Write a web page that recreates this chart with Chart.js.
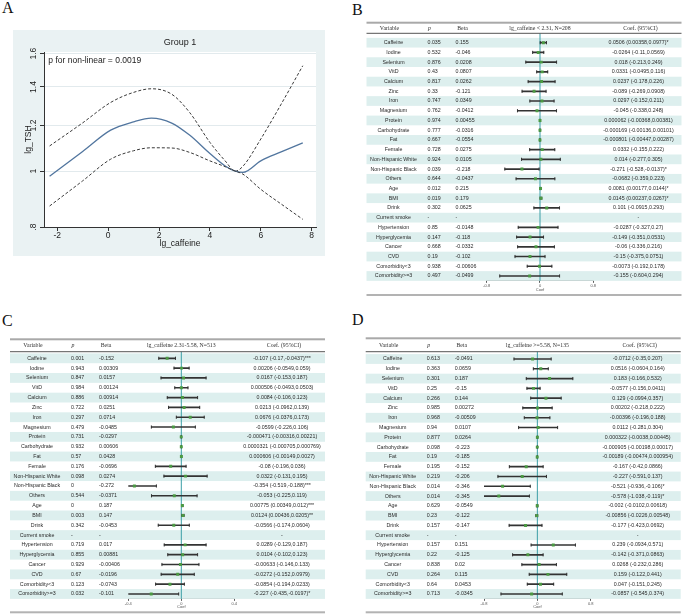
<!DOCTYPE html>
<html><head><meta charset="utf-8">
<script src="https://cdn.jsdelivr.net/npm/chart.js@4.4.1/dist/chart.umd.min.js"></script>
<style>
html,body{margin:0;padding:0;background:#fff;width:685px;height:614px;overflow:hidden;}
body{position:relative;}
.lbl{position:absolute;font-family:"Liberation Serif","Times New Roman",serif;font-size:16px;line-height:16px;color:#111;}
canvas{position:absolute;display:block;}
</style></head><body>
<div class="lbl" style="left:2px;top:0px">A</div>
<div class="lbl" style="left:352px;top:2px">B</div>
<div class="lbl" style="left:2px;top:313px">C</div>
<div class="lbl" style="left:352px;top:312px">D</div>
<canvas id="cA" width="312" height="226" style="left:13px;top:30px;background:#eaf2f3"></canvas>
<canvas id="cB" width="316" height="278" style="left:366px;top:19px"></canvas>
<canvas id="cC" width="318" height="278" style="left:10px;top:336px"></canvas>
<canvas id="cD" width="317" height="279" style="left:365px;top:335px"></canvas>
<script>
// ================= Panel A data =================
const caffeineX = [-2.3, -1, 0.1, 1.0, 1.7, 2.5, 3.2, 4.0, 4.6, 5.0, 5.3, 6.0, 6.8, 7.65];
const tshFit    = [0.98, 1.082, 1.178, 1.218, 1.236, 1.212, 1.155, 1.073, 1.021, 1.0, 0.995, 1.042, 1.08, 1.12];
const tshUpper  = [1.106, 1.213, 1.316, 1.37, 1.39, 1.36, 1.265, 1.122, 1.042, 1.0, 1.02, 1.137, 1.307, 1.524];
const tshLower  = [0.87, 0.962, 1.049, 1.085, 1.098, 1.097, 1.078, 1.042, 1.018, 1.0, 0.988, 0.93, 0.877, 0.825];
const aXTicks = [-2, 0, 2, 4, 6, 8];
const aXTickLabels = ['-2', '0', '2', '4', '6', '8'];
const aYTicks = [0.8, 1, 1.2, 1.4, 1.6];
const aYTickLabels = ['.8', '1', '1.2', '1.4', '1.6'];
const aTitle = 'Group 1';
const aXTitle = 'lg_caffeine';
const aYTitle = 'lg_TSH';
const pNonLinearText = 'p for non-linear = 0.0019';

// ================= Forest data =================
const variables = ['Caffeine','Iodine','Selenium','VitD','Calcium','Zinc','Iron','Magnesium','Protein','Carbohydrate','Fat','Female','Non-Hispanic White','Non-Hispanic Black','Others','Age','BMI','Drink','Current smoke','Hypertension','Hyperglycemia','Cancer','CVD','Comorbidity<3','Comorbidity>=3'];

// Panel B : lg_caffeine < 2.31
const bTitle = 'lg_caffeine < 2.31, N=208';
const bP    = ['0.035','0.532','0.876','0.43','0.817','0.33','0.747','0.762','0.974','0.777','0.667','0.728','0.924','0.039','0.644','0.012','0.019','0.302','-','0.85','0.147','0.668','0.19','0.938','0.497'];
const bBeta = ['0.155','-0.046','0.0208','0.0807','0.0262','-0.121','0.0349','-0.0412','0.00455','-0.0316','-0.0554','0.0275','0.0105','-0.218','-0.0437','0.215','0.179','0.0625','-','-0.0148','-0.118','-0.0332','-0.102','-0.00606','-0.0499'];
const bCoef = [0.0506,-0.0264,0.018,0.0331,0.0237,-0.089,0.0297,-0.045,0.000062,-0.000169,-0.000801,0.0332,0.014,-0.271,-0.0682,0.0081,0.0145,0.101,null,-0.0287,-0.149,-0.06,-0.15,-0.0073,-0.155];
const bLo   = [0.00358,-0.11,-0.213,-0.0495,-0.178,-0.269,-0.152,-0.338,-0.00368,-0.00136,-0.00447,-0.155,-0.277,-0.528,-0.359,0.00177,0.00237,-0.0915,null,-0.327,-0.351,-0.336,-0.375,-0.192,-0.604];
const bHi   = [0.0977,0.0569,0.249,0.116,0.226,0.0908,0.211,0.248,0.00381,0.00101,0.00287,0.222,0.305,-0.0137,0.223,0.0144,0.0267,0.293,null,0.27,0.0531,0.216,0.0751,0.178,0.294];
const bStars= ['*','','','','','','','','','','','','','*','','*','*','','','','','','','',''];
const bTicks = [-0.8, 0, 0.8];
const bTickLabels = ['-0.8', '0', '0.8'];

// Panel C : lg_caffeine 2.31-5.58
const cTitle = 'lg_caffeine 2.31-5.58, N=513';
const cP    = ['0.001','0.943','0.847','0.984','0.886','0.722','0.297','0.479','0.731','0.932','0.57','0.176','0.098','0','0.544','0','0.003','0.342','-','0.719','0.855','0.929','0.67','0.123','0.032'];
const cBeta = ['-0.152','0.00309','0.0157','0.00124','0.00914','0.0251','0.0714','-0.0485','-0.0297','0.00606','0.0428','-0.0696','0.0274','-0.272','-0.0371','0.187','0.147','-0.0453','-','0.017','0.00881','-0.00406','-0.0196','-0.0743','-0.101'];
const cCoef = [-0.107,0.00206,0.0167,0.000506,0.0084,0.0213,0.0676,-0.0599,-0.000471,0.0000321,0.000606,-0.08,0.0322,-0.354,-0.053,0.00775,0.0124,-0.0566,null,0.0289,0.0104,-0.00633,-0.0272,-0.0854,-0.227];
const cLo   = [-0.17,-0.0549,-0.153,-0.0493,-0.106,-0.0962,-0.0376,-0.226,-0.00316,-0.000705,-0.00149,-0.196,-0.131,-0.519,-0.225,0.00349,0.00436,-0.174,null,-0.129,-0.102,-0.146,-0.152,-0.194,-0.435];
const cHi   = [-0.0437,0.059,0.187,0.0503,0.123,0.139,0.173,0.106,0.00221,0.000769,0.0027,0.036,0.195,-0.188,0.119,0.012,0.0205,0.0604,null,0.187,0.123,0.133,0.0979,0.0233,-0.0197];
const cStars= ['***','','','','','','','','','','','','','***','','***','**','','','','','','','','*'];
const cTicks = [-0.4, 0, 0.4];
const cTickLabels = ['-0.4', '0', '0.4'];

// Panel D : lg_caffeine >= 5.58
const dTitle = 'lg_caffeine >=5.58, N=135';
const dP    = ['0.613','0.363','0.301','0.25','0.266','0.985','0.968','0.94','0.877','0.098','0.19','0.195','0.219','0.014','0.014','0.629','0.23','0.157','-','0.157','0.22','0.838','0.264','0.64','0.713'];
const dBeta = ['-0.0491','0.0659','0.187','-0.15','0.144','0.00272','-0.00509','0.0107','0.0264','-0.223','-0.185','-0.152','-0.206','-0.346','-0.345','-0.0549','-0.122','-0.147','-','0.151','-0.125','0.02','0.115','0.0453','-0.0345'];
const dCoef = [-0.0712,0.0516,0.183,-0.0577,0.129,0.00202,-0.00396,0.0112,0.000322,-0.000905,-0.00189,-0.167,-0.227,-0.521,-0.578,-0.002,-0.00856,-0.177,null,0.239,-0.142,0.0268,0.159,0.047,-0.0857];
const dLo   = [-0.35,-0.0604,-0.166,-0.156,-0.0994,-0.218,-0.196,-0.281,-0.0038,-0.00198,-0.00474,-0.42,-0.591,-0.936,-1.038,-0.0102,-0.0226,-0.423,null,-0.0934,-0.371,-0.232,-0.122,-0.151,-0.545];
const dHi   = [0.207,0.164,0.532,0.0411,0.357,0.222,0.188,0.304,0.00445,0.00017,0.000954,0.0866,0.137,-0.106,-0.119,0.00618,0.00548,0.0692,null,0.571,0.0863,0.286,0.441,0.245,0.374];
const dStars= ['','','','','','','','','','','','','','*','*','','','','','','','','','',''];
const dTicks = [-0.8, 0, 0.8];
const dTickLabels = ['-0.8', '0', '0.8'];

const SANS = '"Liberation Sans", Arial, sans-serif';
const SERIF = '"Liberation Serif", "Times New Roman", serif';

// ================= Panel A chart =================
function pts(xs, ys){ return xs.map((x,i)=>({x:x, y:ys[i]})); }
const aPlugin = {
  id:'aDecor',
  beforeDraw(chart){
    const {ctx, chartArea:a} = chart;
    ctx.save(); ctx.fillStyle='#ffffff';
    ctx.fillRect(a.left, a.top, a.right-a.left, a.bottom-a.top);
    ctx.restore();
  },
  afterDatasetsDraw(chart){
    const {ctx, scales:{x,y}} = chart;
    ctx.save();
    ctx.font = '8.5px ' + SANS; ctx.fillStyle='#222';
    ctx.textAlign='left'; ctx.textBaseline='middle';
    ctx.fillText(pNonLinearText, x.getPixelForValue(-2.35), y.getPixelForValue(1.556));
    ctx.restore();
  }
};
new Chart(document.getElementById('cA'), {
  type:'line',
  data:{datasets:[
    {data:pts(caffeineX, tshUpper), borderColor:'#3a3a3a', borderWidth:1, borderDash:[3,2], pointRadius:0, cubicInterpolationMode:'monotone', fill:false},
    {data:pts(caffeineX, tshLower), borderColor:'#3a3a3a', borderWidth:1, borderDash:[3,2], pointRadius:0, cubicInterpolationMode:'monotone', fill:false},
    {data:pts(caffeineX, tshFit), borderColor:'#52769f', borderWidth:1.3, pointRadius:0, cubicInterpolationMode:'monotone', fill:false}
  ]},
  options:{
    responsive:false, animation:false, events:[],
    layout:{padding:{left:0,right:9,top:0,bottom:0}},
    plugins:{
      legend:{display:false}, tooltip:{enabled:false},
      title:{display:true, text:aTitle, fullSize:false, color:'#222', font:{family:SANS, size:9, weight:'normal'}, padding:{top:7.6,bottom:3.6}}
    },
    scales:{
      x:{type:'linear', min:-2.52, max:8.17,
        afterBuildTicks:s=>{s.ticks=aXTicks.map(v=>({value:v}));},
        afterFit:s=>{s.height=29;},
        ticks:{autoSkip:false, maxRotation:0, padding:0, color:'#222', font:{family:SANS,size:8.5},
          callback:v=>{const i=aXTicks.findIndex(t=>Math.abs(t-v)<1e-9); return i<0?'':aXTickLabels[i];}},
        grid:{drawOnChartArea:false, drawTicks:true, tickLength:4, tickColor:'#333'},
        border:{display:true, color:'#333', width:1},
        title:{display:true, text:aXTitle, color:'#222', font:{family:SANS,size:8.5}, padding:{top:0,bottom:7.6}}
      },
      y:{type:'logarithmic', min:0.8, max:1.61,
        afterBuildTicks:s=>{s.ticks=aYTicks.map(v=>({value:v}));},
        afterFit:s=>{s.width=31;},
        ticks:{autoSkip:false, minRotation:90, maxRotation:90, crossAlign:'center', padding:0, color:'#222', font:{family:SANS,size:8.5},
          callback:v=>{const i=aYTicks.findIndex(t=>Math.abs(t-v)<1e-9); return i<0?'':aYTickLabels[i];}},
        grid:{drawOnChartArea:true, color:'#e2eaed', lineWidth:1, drawTicks:true, tickLength:4, tickColor:'#333'},
        border:{display:true, color:'#333', width:1},
        title:{display:true, text:aYTitle, color:'#222', font:{family:SANS,size:8.5}, padding:{top:10.2,bottom:0}}
      }
    }
  },
  plugins:[aPlugin]
});

// ================= Forest charts =================
function fmtCoef(c, lo, hi, st){ return c===null ? '-' : (c + ' (' + lo + ',' + hi + ')' + st); }

function forest(id, D, G){
  const el = document.getElementById(id);
  const W = el.width, H = el.height;
  const n = variables.length;
  const tX = G.L - G.cLeft;
  const cy = v => v - G.cTop;
  const chartTop = G.firstRow - G.rowStep/2;
  const chartBottom = G.firstRow + (n - 0.5)*G.rowStep;
  const xH = H - (chartBottom - G.cTop);
  const padB = (G.cTop + H) - G.coefY - 2.4;
  const ci = D.lo.map((l,i)=> l===null ? null : [l, D.hi[i]]);
  const caps = [];
  D.lo.forEach((l,i)=>{ if(l!==null){ caps.push({x:l, y:variables[i]}); caps.push({x:D.hi[i], y:variables[i]}); } });
  const points = [];
  D.coef.forEach((c,i)=>{ if(c!==null) points.push({x:c, y:variables[i]}); });
  const coefText = D.coef.map((c,i)=>fmtCoef(c, D.lo[i], D.hi[i], D.stars[i]));

  const tablePlugin = {
    id:'forestTable',
    beforeDatasetsDraw(chart){
      const {ctx, chartArea:a, scales:{x,y}} = chart;
      const h = y.getPixelForValue(1) - y.getPixelForValue(0);
      ctx.save();
      ctx.fillStyle = '#ddefee';
      for(let i=0;i<n;i+=2){
        const yc = y.getPixelForValue(i);
        ctx.fillRect(tX, yc-h/2, 315, h);
      }
      const x0 = x.getPixelForValue(0);
      ctx.strokeStyle = '#3a9ea6'; ctx.lineWidth = 1;
      ctx.beginPath(); ctx.moveTo(x0, cy(G.headerLine)); ctx.lineTo(x0, a.bottom); ctx.stroke();
      ctx.restore();
    },
    afterDraw(chart){
      const {ctx, scales:{x,y}} = chart;
      ctx.save();
      // rules
      ctx.fillStyle = '#a9a9a9'; ctx.fillRect(tX, cy(G.topLine)-1, 315, 2);
      ctx.fillStyle = '#555555'; ctx.fillRect(tX, cy(G.headerLine)-0.5, 315, 1);
      ctx.fillStyle = '#b3b3b3'; ctx.fillRect(tX, cy(G.bottomLine)-1, 315, 2);
      // header
      ctx.fillStyle = '#333'; ctx.textBaseline = 'middle';
      const hy = cy(G.headerY);
      ctx.font = '5.8px ' + SERIF; ctx.textAlign = 'center';
      ctx.fillText('Variable', tX+23, hy);
      ctx.fillText('Beta', tX+96, hy);
      ctx.fillText(D.title, x.getPixelForValue(0), hy);
      ctx.fillText('Coef. (95%CI)', tX+274, hy);
      ctx.font = 'italic 5.8px ' + SERIF;
      ctx.fillText('p', tX+63, hy);
      // rows
      ctx.font = '5.3px ' + SANS; ctx.fillStyle = '#2a2a2a';
      for(let i=0;i<n;i++){
        const yc = y.getPixelForValue(i);
        ctx.textAlign='center'; ctx.fillText(variables[i], tX+27, yc);
        ctx.textAlign='left'; ctx.fillText(D.p[i], tX+61, yc); ctx.fillText(D.beta[i], tX+89, yc);
        ctx.textAlign='center'; ctx.fillText(coefText[i], tX+272, yc);
      }
      ctx.restore();
    }
  };

  new Chart(el, {
    type:'bar',
    data:{labels:variables, datasets:[
      {type:'bar', indexAxis:'y', data:ci, backgroundColor:'#333333', barThickness:1, clip:0, order:2},
      {type:'scatter', data:caps, pointStyle:'line', rotation:90, pointRadius:1.6, borderColor:'#333333', borderWidth:1, clip:0, order:1},
      {type:'scatter', data:points, pointStyle:'rect', pointRadius:2.1, backgroundColor:'#4b9a43', borderColor:'#4b9a43', borderWidth:0, clip:0, order:0}
    ]},
    options:{
      indexAxis:'y', responsive:false, animation:false, events:[],
      layout:{padding:{left:G.axL-G.cLeft, right:W-(G.axR-G.cLeft), top:chartTop-G.cTop, bottom:0}},
      plugins:{legend:{display:false}, tooltip:{enabled:false}},
      scales:{
        x:{type:'linear', min:D.ticks[0], max:D.ticks[D.ticks.length-1], offset:false,
          afterBuildTicks:s=>{s.ticks=D.ticks.map(v=>({value:v}));},
          afterFit:s=>{s.height=xH;},
          ticks:{autoSkip:false, maxRotation:0, padding:0.5, color:'#555', font:{family:SANS,size:4},
            callback:v=>{const i=D.ticks.findIndex(t=>Math.abs(t-v)<1e-9); return i<0?'':D.tickLabels[i];}},
          grid:{offset:false, drawOnChartArea:false, drawTicks:true, tickLength:2, tickColor:'#333', lineWidth:0.8},
          border:{display:true, color:'#333', width:0.8},
          title:{display:true, text:'Coef', color:'#555', font:{family:SANS,size:4}, padding:{top:0,bottom:padB}}
        },
        y:{type:'category', display:false, offset:true, grid:{offset:true}}
      }
    },
    plugins:[tablePlugin]
  });
}

forest('cB', {title:bTitle, p:bP, beta:bBeta, coef:bCoef, lo:bLo, hi:bHi, stars:bStars, ticks:bTicks, tickLabels:bTickLabels},
  {cLeft:366, cTop:19, L:366.5, axL:486.7, axR:593.3, topLine:22.7, headerY:28, headerLine:33.3, firstRow:42.7, rowStep:9.72, bottomLine:295, coefY:289.4});
forest('cC', {title:cTitle, p:cP, beta:cBeta, coef:cCoef, lo:cLo, hi:cHi, stars:cStars, ticks:cTicks, tickLabels:cTickLabels},
  {cLeft:10, cTop:336, L:10, axL:128.3, axR:234.3, topLine:339.3, headerY:345.5, headerLine:351.7, firstRow:358.3, rowStep:9.82, bottomLine:612.3, coefY:607.3});
forest('cD', {title:dTitle, p:dP, beta:dBeta, coef:dCoef, lo:dLo, hi:dHi, stars:dStars, ticks:dTicks, tickLabels:dTickLabels},
  {cLeft:365, cTop:335, L:365.7, axL:484, axR:590.7, topLine:338.3, headerY:345.3, headerLine:351.7, firstRow:359, rowStep:9.79, bottomLine:612.3, coefY:607.3});
</script>
</body></html>
